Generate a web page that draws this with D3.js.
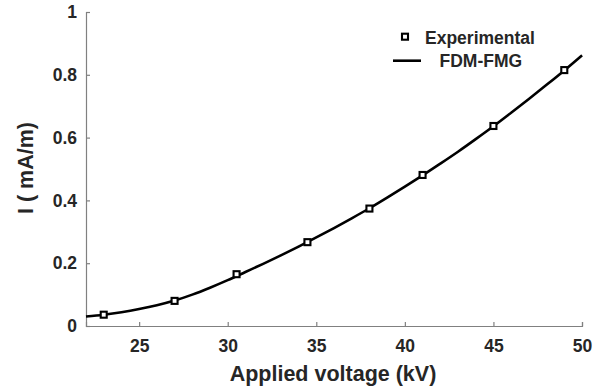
<!DOCTYPE html>
<html>
<head>
<meta charset="utf-8">
<script src="https://cdn.jsdelivr.net/npm/d3@7"></script>
<style>
  html, body { margin: 0; padding: 0; background: #fff; }
  svg { display: block; }
  text { font-family: "Liberation Sans", Arial, sans-serif; font-weight: bold; fill: #262626; }
</style>
</head>
<body>
<svg id="chart" width="603" height="388"></svg>
<script>
// Experimental points
const expVoltage = [23, 27, 30.5, 34.5, 38, 41, 45, 49];
const expCurrent = [0.036, 0.080, 0.165, 0.267, 0.374, 0.481, 0.637, 0.815];

// FDM-FMG curve
const fdmVoltage = [22, 23, 24, 25, 26, 27, 28, 29, 30, 31, 32, 33, 34, 35, 36,
                    37, 38, 39, 40, 41, 42, 43, 44, 45, 46, 47, 48, 49, 50];
const fdmCurrent = [0.030, 0.036, 0.044, 0.054, 0.066, 0.081, 0.100, 0.122, 0.146,
                    0.172, 0.198, 0.225, 0.253, 0.282, 0.312, 0.343, 0.375, 0.409,
                    0.444, 0.480, 0.517, 0.555, 0.595, 0.636, 0.679, 0.723, 0.768,
                    0.814, 0.862];

const xTicks = [25, 30, 35, 40, 45, 50];
const yTicks = [0, 0.2, 0.4, 0.6, 0.8, 1];
const yTickLabels = ["0", "0.2", "0.4", "0.6", "0.8", "1"];
const seriesNames = ["Experimental", "FDM-FMG"];

const svg = d3.select("#chart");
const x = d3.scaleLinear().domain([22, 50]).range([86, 582]);
const y = d3.scaleLinear().domain([0, 1]).range([326, 12]);
const axisColor = "#808080";

// X axis
const xAxis = svg.append("g").attr("transform", `translate(0,${y(0)})`)
  .call(d3.axisBottom(x).tickValues(xTicks).tickSize(-4).tickPadding(14).tickFormat(d3.format("d")));
// Y axis
const yAxis = svg.append("g").attr("transform", `translate(${x(22)},0)`)
  .call(d3.axisLeft(y).tickValues(yTicks).tickSize(-4).tickPadding(9).tickFormat((d, i) => yTickLabels[i]));

[xAxis, yAxis].forEach(g => {
  g.select(".domain").attr("stroke", axisColor).attr("stroke-width", 1.2);
  g.selectAll(".tick line").attr("stroke", axisColor).attr("stroke-width", 1.2);
  g.selectAll(".tick text").attr("fill", "#262626")
    .style("font-size", "17.5px").style("font-weight", "bold")
    .style("font-family", "'Liberation Sans', Arial, sans-serif");
});

// curve
const line = d3.line().x((d, i) => x(fdmVoltage[i])).y(d => y(d)).curve(d3.curveMonotoneX);
svg.append("path").datum(fdmCurrent)
  .attr("d", line).attr("fill", "none").attr("stroke", "#000").attr("stroke-width", 2.6);

// markers
const ms = 6;
svg.append("g").selectAll("rect").data(expCurrent).join("rect")
  .attr("x", (d, i) => x(expVoltage[i]) - ms / 2)
  .attr("y", d => y(d) - ms / 2)
  .attr("width", ms).attr("height", ms)
  .attr("fill", "#fff").attr("stroke", "#000").attr("stroke-width", 2.1);

// axis titles
svg.append("text").attr("x", 333).attr("y", 381).attr("text-anchor", "middle")
  .style("font-size", "21.5px").text("Applied voltage (kV)");
svg.append("text").attr("transform", "translate(33,168) rotate(-90)").attr("text-anchor", "middle")
  .style("font-size", "21.5px").text("I ( mA/m)");

// legend
const lg = svg.append("g");
lg.append("rect").attr("x", 405 - ms / 2).attr("y", 36.7 - ms / 2).attr("width", ms).attr("height", ms)
  .attr("fill", "#fff").attr("stroke", "#000").attr("stroke-width", 2.1);
lg.append("text").attr("x", 425).attr("y", 43.5).style("font-size", "17.5px").text(seriesNames[0]);
lg.append("line").attr("x1", 393).attr("x2", 421).attr("y1", 60.7).attr("y2", 60.7)
  .attr("stroke", "#000").attr("stroke-width", 2.6);
lg.append("text").attr("x", 439.5).attr("y", 66.5).style("font-size", "17.5px").text(seriesNames[1]);
</script>
</body>
</html>
